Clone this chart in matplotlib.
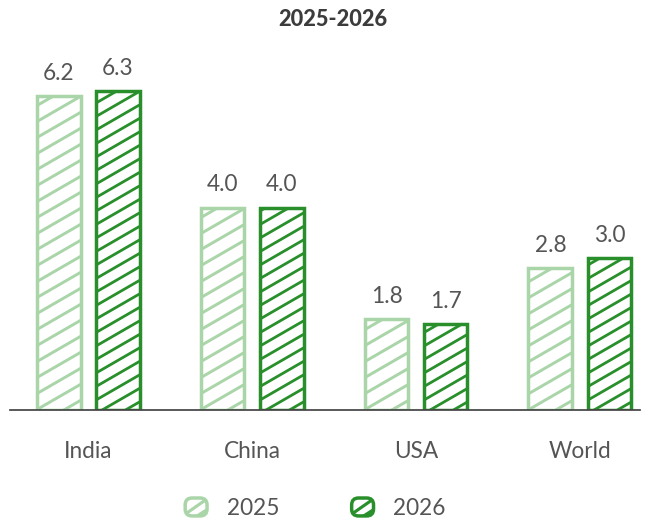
import matplotlib.pyplot as plt
import numpy as np
from matplotlib.patches import Patch, FancyBboxPatch
from matplotlib.collections import LineCollection
from matplotlib.lines import Line2D
from matplotlib.transforms import IdentityTransform
from matplotlib.legend_handler import HandlerPatch

regions = ["India", "China", "USA", "World"]
years = ["2025", "2026"]
growth_2025 = [6.2, 4.0, 1.8, 2.8]
growth_2026 = [6.3, 4.0, 1.7, 3.0]

light_green = "#a9d5a9"
dark_green = "#288f2b"
text_gray = "#555555"

plt.rcParams['font.family'] = ['Lato', 'DejaVu Sans']

DPI = 125
fig = plt.figure(figsize=(646/DPI, 521/DPI), dpi=DPI)
ax = fig.add_axes([10/646, 111/521, 630/646, 370/521])

x = np.arange(len(regions))
width = 0.268
offset = 0.18

ax.set_xlim(-0.476, 3.366)
ax.set_ylim(0, 7.31)

b1 = ax.bar(x - offset, growth_2025, width, facecolor="white", edgecolor=light_green,
            linewidth=2.0, label=years[0])
b2 = ax.bar(x + offset, growth_2026, width, facecolor="white", edgecolor=dark_green,
            linewidth=2.0, label=years[1])


def hachure(bar, gap, color, lw, angle=30):
    # slanted fill lines in pixel space, clipped to the bar outline
    x0, y0, x1, y1 = bar.get_window_extent().extents
    slope = np.tan(np.radians(angle))
    rise = slope * (x1 - x0)
    segs = [[(x0, y0 + c), (x1, y0 + c + rise)]
            for c in np.arange(-rise - gap * 0.4, y1 - y0 + gap, gap)]
    lc = LineCollection(segs, colors=color, linewidths=lw,
                        transform=IdentityTransform(), zorder=1.5)
    ax.add_collection(lc, autolim=False)
    lc.set_clip_path(bar)


for bar in b1:
    hachure(bar, 16.0, light_green, 1.7)
for bar in b2:
    hachure(bar, 13.5, dark_green, 1.6)

for bars in (b1, b2):
    ax.bar_label(bars, fmt="%.1f", padding=7, fontsize=13, color=text_gray)

ax.set_xticks(x)
ax.set_xticklabels(regions, fontsize=13, color=text_gray)
ax.tick_params(axis='x', length=0, pad=18)
ax.set_yticks([])

for side in ("top", "right", "left"):
    ax.spines[side].set_visible(False)
ax.spines["bottom"].set_color("#444444")
ax.spines["bottom"].set_linewidth(1.0)

fig.text(333/646, 1 - 20/521, "2025-2026", ha="center", va="center",
         fontsize=12.5, fontweight="black", color="#3c3c3c")


class RoundedHandler(HandlerPatch):
    def create_artists(self, legend, orig_handle, xdescent, ydescent,
                       width, height, fontsize, trans):
        color = orig_handle.get_edgecolor()
        x0, y0 = -xdescent + 1.5, -ydescent + 1.5
        w, h = width - 3, height - 3
        box = FancyBboxPatch((x0, y0), w, h,
                             boxstyle="round,pad=0,rounding_size=4",
                             facecolor="white", edgecolor=color,
                             linewidth=2.0, transform=trans)
        main = Line2D([x0, x0 + w], [y0 + 0.1 * h, y0 + 0.95 * h],
                      color=color, linewidth=1.8, transform=trans)
        corner = Line2D([x0 + 0.55 * w, x0 + w], [y0, y0 + 0.35 * h],
                        color=color, linewidth=1.8, transform=trans)
        main.set_clip_path(box)
        corner.set_clip_path(box)
        return [box, main, corner]


handles = [Patch(facecolor="white", edgecolor=light_green),
           Patch(facecolor="white", edgecolor=dark_green)]
fig.legend(handles, years, loc="center", bbox_to_anchor=(314/646, 1 - 507/521),
           ncol=2, frameon=False, fontsize=13, labelcolor=text_gray,
           handlelength=1.2, handleheight=1.2, handletextpad=0.75,
           columnspacing=3.1, handler_map={Patch: RoundedHandler()})

fig.savefig("out.png", dpi=DPI)
